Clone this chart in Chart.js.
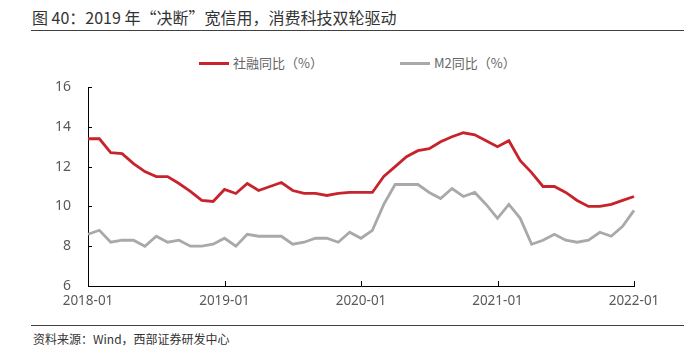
<!DOCTYPE html>
<html>
<head>
<meta charset="utf-8">
<script src="https://cdn.jsdelivr.net/npm/chart.js@4.4.0/dist/chart.umd.min.js"></script>
<style>
  body { margin: 0; width: 690px; height: 354px; background: #fff; position: relative; overflow: hidden;
         font-family: "Noto Sans CJK SC", "Noto Sans", sans-serif; }
  #title { position: absolute; left: 32px; top: 5px; font-size: 16px; color: #333; white-space: nowrap; }
  .rule { position: absolute; left: 31px; width: 653px; height: 0; border-top: 1.5px solid #404040; }
  #legend { position: absolute; top: 54px; left: 0; font-size: 13px; color: #666; }
  .item { position: absolute; white-space: nowrap; line-height: 18px; }
  .swatch { display: inline-block; width: 30px; height: 3px; vertical-align: middle; margin-right: 4px; position: relative; top: -1px; }
  #source { position: absolute; left: 33px; top: 330px; font-size: 12px; color: #333; white-space: nowrap; }
  #box { position: absolute; left: 0; top: 78px; width: 690px; height: 236px; }
</style>
</head>
<body>
<div id="title">图 40：2019 年“决断”宽信用，消费科技双轮驱动</div>
<div class="rule" style="top:30px"></div>
<div id="legend">
  <div class="item" style="left:199px"><span class="swatch" style="background:#C8232C"></span>社融同比（%）</div>
  <div class="item" style="left:400px"><span class="swatch" style="background:#A9A9A9"></span>M2同比（%）</div>
</div>
<div id="box"><canvas id="chart"></canvas></div>
<div class="rule" style="top:325px"></div>
<div id="source">资料来源：Wind，西部证券研发中心</div>

<script>
// 月份标签 2018-01 ~ 2022-01
const months = [];
for (let y = 2018; y <= 2022; y++) {
    for (let m = 1; m <= 12; m++) {
        if (y === 2022 && m > 1) break;
        months.push(y + '-' + String(m).padStart(2, '0'));
    }
}

// 社融存量同比 (%)
const tsfYoY = [
    13.4, 13.4, 12.7, 12.65, 12.15, 11.75, 11.5, 11.5, 11.15, 10.75, 10.3, 10.25,
    10.85, 10.65, 11.15, 10.8, 11.0, 11.2, 10.8, 10.65, 10.65, 10.55, 10.65, 10.7,
    10.7, 10.7, 11.5, 12.0, 12.5, 12.8, 12.9, 13.25, 13.5, 13.7, 13.6, 13.3,
    13.0, 13.3, 12.3, 11.7, 11.0, 11.0, 10.7, 10.3, 10.0, 10.0, 10.1, 10.3,
    10.5
];

// M2同比 (%)
const m2YoY = [
    8.6, 8.8, 8.2, 8.3, 8.3, 8.0, 8.5, 8.2, 8.3, 8.0, 8.0, 8.1,
    8.4, 8.0, 8.6, 8.5, 8.5, 8.5, 8.1, 8.2, 8.4, 8.4, 8.2, 8.7,
    8.4, 8.8, 10.1, 11.1, 11.1, 11.1, 10.7, 10.4, 10.9, 10.5, 10.7, 10.1,
    9.4, 10.1, 9.4, 8.1, 8.3, 8.6, 8.3, 8.2, 8.3, 8.7, 8.5, 9.0,
    9.8
];

const yTicks = [6, 8, 10, 12, 14, 16];

// 坐标轴内侧刻度线
const innerTicks = {
    id: 'innerTicks',
    afterDraw(chart) {
        const ctx = chart.ctx;
        const x = chart.scales.x, y = chart.scales.y;
        ctx.save();
        ctx.strokeStyle = '#000';
        ctx.lineWidth = 1;
        ctx.beginPath();
        months.forEach((m, i) => {
            if (m.endsWith('-01')) {
                const px = Math.round(x.getPixelForValue(i)) + 0.5;
                ctx.moveTo(px, y.bottom);
                ctx.lineTo(px, y.bottom - 5);
            }
        });
        yTicks.forEach(v => {
            const py = Math.round(y.getPixelForValue(v)) + 0.5;
            ctx.moveTo(x.left, py);
            ctx.lineTo(x.left + 4, py);
        });
        ctx.stroke();
        ctx.restore();
    }
};

const ctx = document.getElementById('chart').getContext('2d');
new Chart(ctx, {
    type: 'line',
    data: {
        labels: months,
        datasets: [{
            label: '社融同比（%）',
            data: tsfYoY,
            borderColor: '#C8232C',
            borderWidth: 2.8,
            pointRadius: 0,
            tension: 0
        }, {
            label: 'M2同比（%）',
            data: m2YoY,
            borderColor: '#A9A9A9',
            borderWidth: 2.8,
            pointRadius: 0,
            tension: 0
        }]
    },
    options: {
        responsive: true,
        maintainAspectRatio: false,
        animation: false,
        layout: { padding: { top: 9, right: 56, left: 0, bottom: 0 } },
        plugins: { legend: { display: false }, tooltip: { enabled: false } },
        scales: {
            x: {
                offset: false,
                grid: { display: false, drawTicks: false },
                border: { display: true, color: '#000', width: 1 },
                ticks: {
                    autoSkip: false,
                    maxRotation: 0,
                    padding: 7,
                    color: '#595959',
                    font: { family: 'Noto Sans', size: 13.5 },
                    callback: function(val, i) {
                        return months[i].endsWith('-01') ? months[i] : '';
                    }
                },
                afterFit(scale) {
                    scale.height = 28;
                    scale.paddingLeft = 0;
                    scale.paddingRight = 0;
                }
            },
            y: {
                min: 6,
                max: 16,
                grid: { display: false, drawTicks: false },
                border: { display: true, color: '#000', width: 1 },
                ticks: {
                    stepSize: 2,
                    padding: 17,
                    color: '#595959',
                    font: { family: 'Noto Sans', size: 14 }
                },
                afterFit(scale) {
                    scale.width = 88;
                    scale.paddingTop = 0;
                    scale.paddingBottom = 0;
                }
            }
        }
    },
    plugins: [innerTicks]
});
</script>
</body>
</html>
